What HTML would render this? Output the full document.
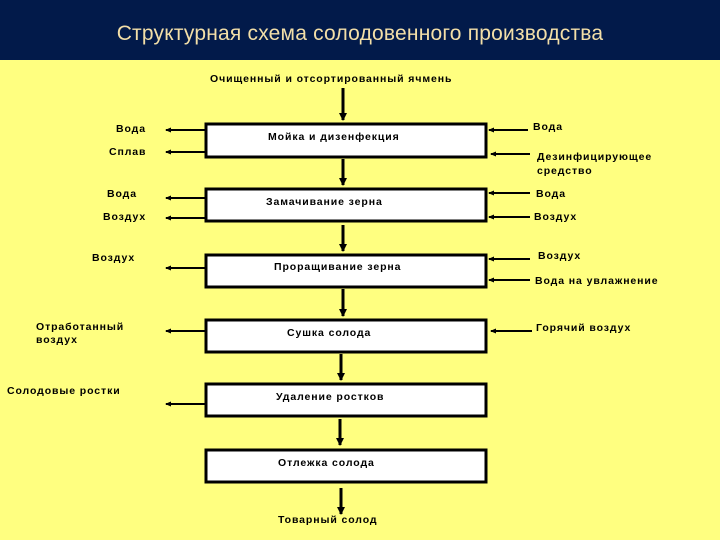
<!DOCTYPE html>
<html><head><meta charset="utf-8"><style>
html,body{margin:0;padding:0;width:720px;height:540px;overflow:hidden;background:#ffff80}
.hdr{position:absolute;left:0;top:0;width:720px;height:60px;background:#021a4a}
.hdr div{position:absolute;left:0;width:720px;top:22px;text-align:center;color:#f3dfa8;font:21px "Liberation Sans",sans-serif;letter-spacing:0.2px}
svg{position:absolute;left:0;top:0}
text{font-family:"Liberation Sans",sans-serif;font-weight:bold;font-size:10.5px;letter-spacing:0.9px;fill:#000}
</style></head><body>
<div class="hdr"><div>Структурная схема солодовенного производства</div></div>
<svg width="720" height="540" viewBox="0 0 720 540">
<defs>
<marker id="ah" markerWidth="8" markerHeight="8" refX="7" refY="4" orient="auto" markerUnits="userSpaceOnUse"><path d="M0,0 L8,4 L0,8 z" fill="#000"/></marker>
<marker id="sh" markerWidth="6" markerHeight="5" refX="5" refY="2.5" orient="auto" markerUnits="userSpaceOnUse"><path d="M0,0 L6,2.5 L0,5 z" fill="#000"/></marker>
</defs>
<g fill="#fff" stroke="#000" stroke-width="3">
<rect x="206" y="124" width="280" height="33"/>
<rect x="206" y="189" width="280" height="32"/>
<rect x="206" y="255" width="280" height="32"/>
<rect x="206" y="320" width="280" height="32"/>
<rect x="206" y="384" width="280" height="32"/>
<rect x="206" y="450" width="280" height="32"/>
</g>
<g stroke="#000" stroke-width="3" marker-end="url(#ah)">
<line x1="343" y1="88" x2="343" y2="120"/>
<line x1="343" y1="159" x2="343" y2="185"/>
<line x1="343" y1="225" x2="343" y2="251"/>
<line x1="343" y1="289" x2="343" y2="316"/>
<line x1="341" y1="354" x2="341" y2="380"/>
<line x1="340" y1="419" x2="340" y2="445"/>
<line x1="341" y1="488" x2="341" y2="514"/>
</g>
<g stroke="#000" stroke-width="2" marker-end="url(#sh)">
<line x1="205" y1="130" x2="166" y2="130"/>
<line x1="205" y1="152" x2="166" y2="152"/>
<line x1="205" y1="198" x2="166" y2="198"/>
<line x1="205" y1="218" x2="166" y2="218"/>
<line x1="205" y1="268" x2="166" y2="268"/>
<line x1="205" y1="331" x2="166" y2="331"/>
<line x1="205" y1="404" x2="166" y2="404"/>
<line x1="528" y1="130" x2="489" y2="130"/>
<line x1="530" y1="154" x2="491" y2="154"/>
<line x1="530" y1="193" x2="489" y2="193"/>
<line x1="530" y1="217" x2="489" y2="217"/>
<line x1="530" y1="259" x2="489" y2="259"/>
<line x1="530" y1="280" x2="489" y2="280"/>
<line x1="532" y1="331" x2="491" y2="331"/>
</g>
<text x="210" y="82">Очищенный и отсортированный ячмень</text>
<text x="268" y="140">Мойка и дизенфекция</text>
<text x="266" y="205">Замачивание зерна</text>
<text x="274" y="270">Проращивание зерна</text>
<text x="287" y="336">Сушка солода</text>
<text x="276" y="400">Удаление ростков</text>
<text x="278" y="466">Отлежка солода</text>
<text x="278" y="523">Товарный солод</text>
<text x="116" y="132">Вода</text>
<text x="109" y="155">Сплав</text>
<text x="107" y="197">Вода</text>
<text x="103" y="220">Воздух</text>
<text x="92" y="261">Воздух</text>
<text x="36" y="330">Отработанный</text>
<text x="36" y="343">воздух</text>
<text x="7" y="394">Солодовые ростки</text>
<text x="533" y="130">Вода</text>
<text x="537" y="160">Дезинфицирующее</text>
<text x="537" y="174">средство</text>
<text x="536" y="197">Вода</text>
<text x="534" y="220">Воздух</text>
<text x="538" y="259">Воздух</text>
<text x="535" y="284">Вода на увлажнение</text>
<text x="536" y="331">Горячий воздух</text>
</svg>
</body></html>
